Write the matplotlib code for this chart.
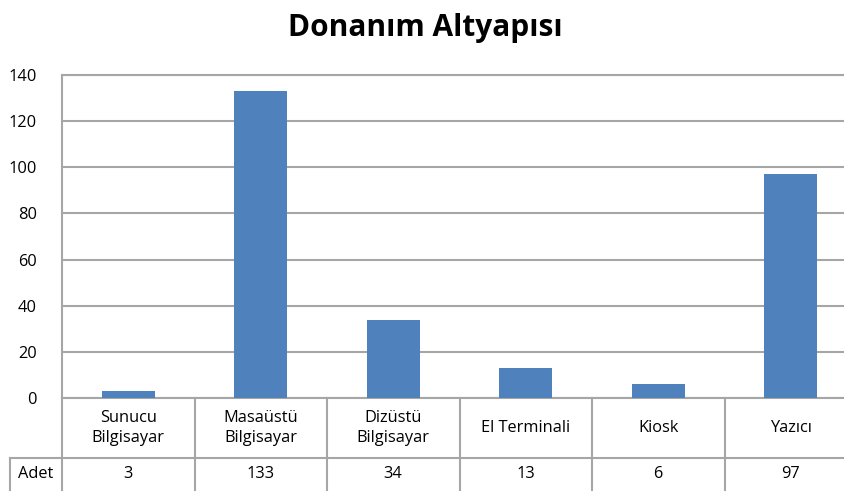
import matplotlib.pyplot as plt
import matplotlib.transforms as mtransforms

categories = ["Sunucu\nBilgisayar", "Masaüstü\nBilgisayar", "Dizüstü\nBilgisayar",
              "El Terminali", "Kiosk", "Yazıcı"]
adet = [3, 133, 34, 13, 6, 97]
yticks = [0, 20, 40, 60, 80, 100, 120, 140]
row_label = "Adet"
title = "Donanım Altyapısı"

plt.rcParams['font.family'] = ['Open Sans', 'DejaVu Sans']

W, H = 844, 491
fig = plt.figure(figsize=(W / 100, H / 100), dpi=100)
ax = fig.add_axes([62 / W, 1 - 398 / H, (857 - 62) / W, (398 - 75) / H])

grid_c = '#A6A6A6'
bar_c = '#4F81BD'
fs = 11.8

x = range(len(categories))
ax.bar(x, adet, width=0.4, color=bar_c, zorder=3)
ax.set_xlim(-0.5, len(categories) - 0.5)
ax.set_ylim(0, 140)
ax.set_yticks(yticks)
ax.set_yticklabels([str(v) for v in yticks], fontsize=fs)
ax.set_xticks([])
ax.yaxis.grid(True, color=grid_c, linewidth=1.5, zorder=0)
ax.tick_params(axis='y', length=0, pad=18)
for s in ax.spines.values():
    s.set_color(grid_c)
    s.set_linewidth(1.5)
ax.spines['right'].set_visible(False)

fig.suptitle(title, fontsize=21.5, fontweight='bold', x=(278 + 573) / 2 / W, y=1 - 28 / H, va='center')

# data table under the axis
trans = mtransforms.blended_transform_factory(ax.transData, ax.transAxes)
ph = 398 - 75
r1 = -(458 - 398) / ph
r2 = -(500 - 398) / ph
lw = 1.5
for i in range(len(categories) + 1):
    ax.plot([i - 0.5, i - 0.5], [0, r2], transform=trans, color=grid_c, lw=lw, clip_on=False)
x_left = -0.5 - (62 - 10) / ((857 - 62) / len(categories))
ax.plot([x_left, len(categories) - 0.5], [r1, r1], transform=trans, color=grid_c, lw=lw, clip_on=False)
ax.plot([x_left, x_left], [r1, r2], transform=trans, color=grid_c, lw=lw, clip_on=False)

for i, (c, v) in enumerate(zip(categories, adet)):
    ax.text(i, r1 / 2, c, transform=trans, ha='center', va='center', fontsize=fs, linespacing=1.3)
    ax.text(i, -(474 - 398) / ph, str(v), transform=trans, ha='center', va='center', fontsize=fs)
ax.text((x_left - 0.5) / 2, -(474 - 398) / ph, row_label, transform=trans, ha='center', va='center', fontsize=fs)

fig.savefig('out.png', dpi=100)
